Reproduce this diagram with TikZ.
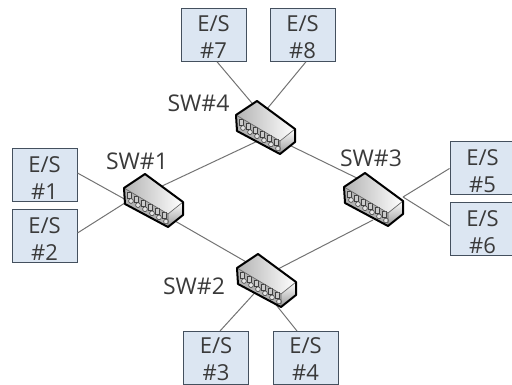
\documentclass[tikz,border=0pt]{standalone}
\usepackage{fontspec}
\setmainfont{Open Sans}
\definecolor{boxfill}{HTML}{DCE6F2}
\definecolor{boxline}{HTML}{44505E}
\definecolor{linkgray}{HTML}{737373}
\definecolor{textgray}{HTML}{3A3A3A}
\newcommand{\esname}[2][21pt]{\rule{0pt}{#1}E/S\\\##2}
\tikzset{
  endsys/.style={draw=boxline,fill=boxfill,text=textgray,line width=1pt,inner sep=0pt,
    minimum width=65pt,minimum height=53pt,align=center,font=\fontsize{22}{27}\selectfont},
  swlabel/.style={text=textgray,inner sep=0pt,font=\fontsize{23}{26}\selectfont},
  swnode/.style={inner sep=0pt,minimum width=60pt,minimum height=54pt},
  link/.style={draw=linkgray,line width=1pt},
  switchbox/.pic={
    \shade[left color=black!30,right color=white] (-29,-12) -- (-8,-26) -- (30,2) -- (15,14) -- cycle;
    \shade[top color=white,bottom color=black!40] (15,14) -- (30,2) -- (30,15) -- (15,27) -- cycle;
    \fill[black!30] (-29,-12) -- (15,14) -- (15,27) -- (-28,4) -- cycle;
    \foreach \i in {0,...,5} {
      \draw[black!75,fill=white!80!black,line width=0.6pt] (-26+7*\i,-8+4.1*\i) rectangle ++(4.5,6);
      \draw[black!75,fill=white!90!black,line width=0.6pt] (-22+7*\i,1+4.1*\i) circle (2.4);
    }
    \draw[black!60,line width=0.7pt] (-29,-12) -- (15,14) -- (30,2) (15,14) -- (15,27);
    \draw[line width=2pt,line join=round] (-29,-12) -- (-8,-26) -- (30,2) -- (30,15) -- (15,27) -- (-28,4) -- cycle;
  }
}
\begin{document}
\begin{tikzpicture}[x=1pt,y=-1pt]
  \useasboundingbox[clip] (0,0) rectangle (512,385);
  \draw
    (213.5,34.75) node[endsys] (es7){\esname{7}}
    (302.5,34.75) node[endsys] (es8){\esname{8}}
    (44.5,175.5) node[endsys] (es1){\esname{1}}
    (44.5,236.5) node[endsys] (es2){\esname{2}}
    (216,358) node[endsys] (es3){\esname[18pt]{3}}
    (305.5,358) node[endsys] (es4){\esname[18pt]{4}}
    (482.5,168.5) node[endsys] (es5){\esname{5}}
    (482.5,229.5) node[endsys] (es6){\esname{6}};
  \draw
    (153,200) node[swnode] (sw1){}
    (266,280) node[swnode] (sw2){}
    (373,199) node[swnode] (sw3){}
    (265,127) node[swnode] (sw4){};
  % where the links go in under the switches
  \coordinate (sw1a) at (128,201);
  \coordinate (sw1b) at (160,187);
  \coordinate (sw1c) at (175,221);
  \coordinate (sw2a) at (261,286);
  \coordinate (sw2b) at (255,267);
  \coordinate (sw2c) at (278,269);
  \coordinate (sw3a) at (403,197);
  \coordinate (sw3b) at (365,182);
  \coordinate (sw3c) at (373,220);
  \coordinate (sw4a) at (262,115);
  \coordinate (sw4b) at (262,139);
  \coordinate (sw4c) at (285,143);
  \begin{scope}[link]
    \draw ([xshift=3.5pt]es7.south) to (sw4a);
    \draw ([xshift=3.5pt]es8.south) to (sw4a);
    \draw ([yshift=2.5pt]es1.east) to (sw1a);
    \draw ([yshift=3.5pt]es2.east) to (sw1a);
    \draw ([xshift=4pt]es3.north) to (sw2a);
    \draw ([xshift=-8.5pt]es4.north) to (sw2a);
    \draw (es5.west) to (sw3a);
    \draw ([yshift=3.5pt]es6.west) to (sw3a);
    \draw (sw1b) to (sw4b);
    \draw (sw1c) to (sw2b);
    \draw (sw4c) to (sw3b);
    \draw (sw2c) to (sw3c);
  \end{scope}
  \pic at (sw1) {switchbox};
  \pic at (sw2) {switchbox};
  \pic at (sw3) {switchbox};
  \pic at (sw4) {switchbox};
  \node[swlabel] (lb1) at (137,161.5) {SW\#1};
  \node[swlabel] (lb2) at (194,286.5) {SW\#2};
  \node[swlabel] (lb3) at (371,158.5) {SW\#3};
  \node[swlabel] (lb4) at (198.5,103.5) {SW\#4};
\end{tikzpicture}
\end{document}
